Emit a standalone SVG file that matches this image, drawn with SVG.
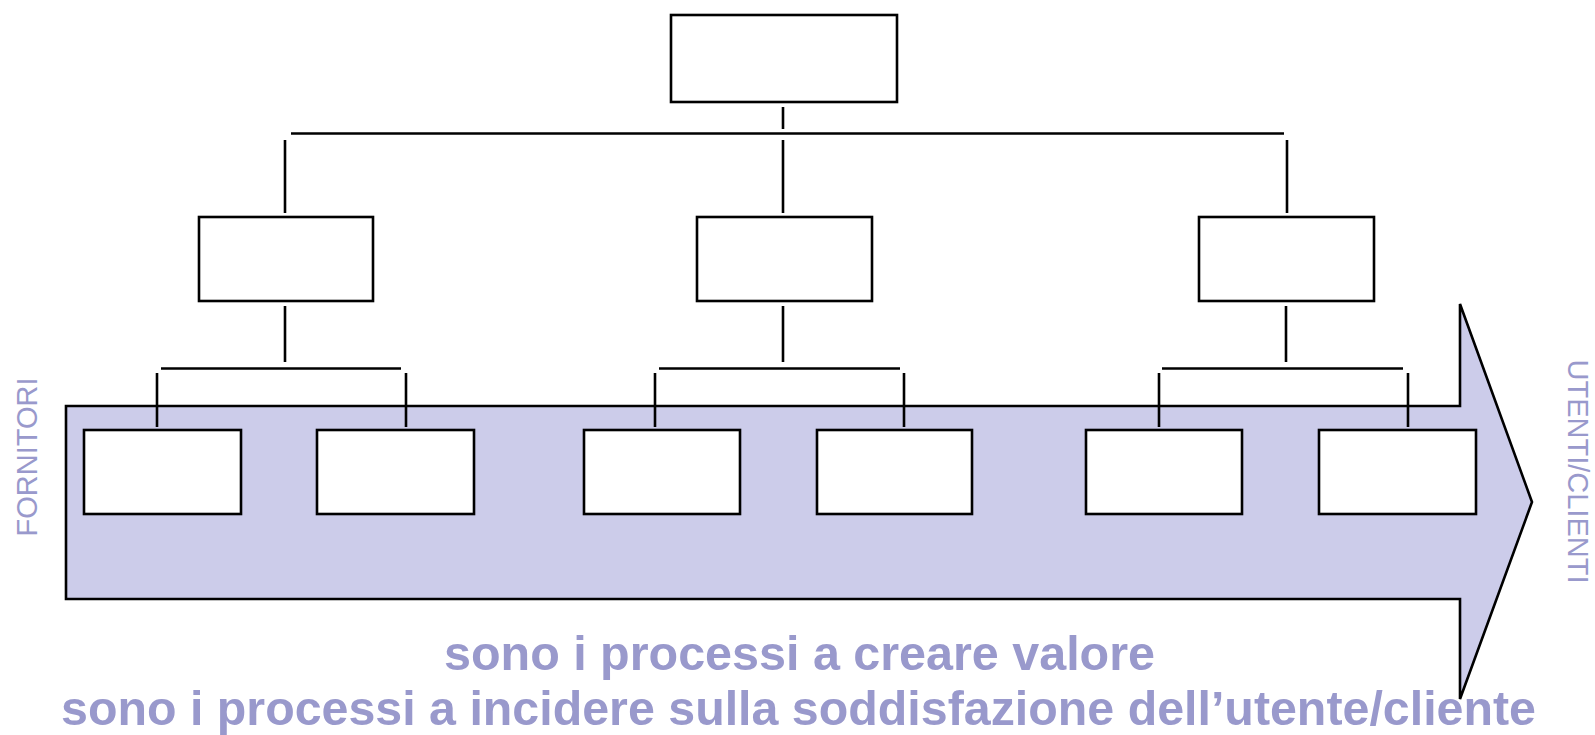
<svg xmlns="http://www.w3.org/2000/svg" width="1595" height="735" viewBox="0 0 1595 735">
<style>
.box{fill:#ffffff;stroke:#000000;stroke-width:2.6}
.ln{stroke:#000000;stroke-width:2.6;fill:none}
.side{font-family:"Liberation Sans",Arial,sans-serif;font-size:29px;fill:#9999cc}
.main{font-family:"Liberation Sans",Arial,sans-serif;font-size:49px;font-weight:bold;fill:#9999cc}
</style>
<rect width="1595" height="735" fill="#ffffff"/>
<g id="arrow">
<polygon points="66,406 1460,406 1460,304 1532,502 1460,699 1460,599 66,599" fill="#ccccea" stroke="#000000" stroke-width="2.6" stroke-linejoin="miter"/>
</g>
<g id="connectors">
<line class="ln" x1="783" y1="107" x2="783" y2="129"/>
<line class="ln" x1="291" y1="133.5" x2="1284" y2="133.5"/>
<line class="ln" x1="285" y1="140" x2="285" y2="213"/>
<line class="ln" x1="783" y1="140" x2="783" y2="213"/>
<line class="ln" x1="1287" y1="140" x2="1287" y2="213"/>
<line class="ln" x1="285" y1="306" x2="285" y2="362"/>
<line class="ln" x1="783" y1="306" x2="783" y2="362"/>
<line class="ln" x1="1286" y1="306" x2="1286" y2="362"/>
<line class="ln" x1="161" y1="368.5" x2="401" y2="368.5"/>
<line class="ln" x1="659" y1="368.5" x2="900" y2="368.5"/>
<line class="ln" x1="1162" y1="368.5" x2="1403" y2="368.5"/>
<line class="ln" x1="157" y1="373" x2="157" y2="427"/>
<line class="ln" x1="406" y1="373" x2="406" y2="427"/>
<line class="ln" x1="655" y1="373" x2="655" y2="427"/>
<line class="ln" x1="904" y1="373" x2="904" y2="427"/>
<line class="ln" x1="1159" y1="373" x2="1159" y2="427"/>
<line class="ln" x1="1408" y1="373" x2="1408" y2="427"/>
</g>
<g id="n0"><rect class="box" x="671" y="15" width="226" height="87"/></g>
<g id="n1"><rect class="box" x="199" y="217" width="174" height="84"/></g>
<g id="n2"><rect class="box" x="697" y="217" width="175" height="84"/></g>
<g id="n3"><rect class="box" x="1199" y="217" width="175" height="84"/></g>
<g id="n4"><rect class="box" x="84" y="430" width="157" height="84"/></g>
<g id="n5"><rect class="box" x="317" y="430" width="157" height="84"/></g>
<g id="n6"><rect class="box" x="584" y="430" width="156" height="84"/></g>
<g id="n7"><rect class="box" x="817" y="430" width="155" height="84"/></g>
<g id="n8"><rect class="box" x="1086" y="430" width="156" height="84"/></g>
<g id="n9"><rect class="box" x="1319" y="430" width="157" height="84"/></g>
<g id="labels">
<text class="side" transform="translate(37,457) rotate(-90)" text-anchor="middle">FORNITORI</text>
<text class="side" transform="translate(1568,471.5) rotate(90)" text-anchor="middle">UTENTI/CLIENTI</text>
<text class="main" x="444" y="670" textLength="711" lengthAdjust="spacingAndGlyphs">sono i processi a creare valore</text>
<text class="main" x="61" y="725" textLength="1475" lengthAdjust="spacingAndGlyphs">sono i processi a incidere sulla soddisfazione dell’utente/cliente</text>
</g>
</svg>
